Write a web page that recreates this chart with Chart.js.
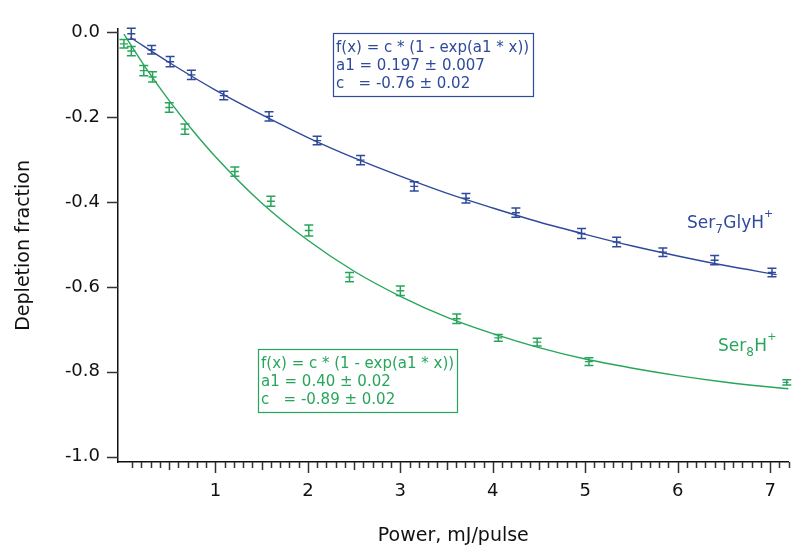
<!DOCTYPE html>
<html>
<head>
<meta charset="utf-8">
<script src="https://cdn.jsdelivr.net/npm/chart.js@4"></script>
<style>
  html, body { margin: 0; padding: 0; background: #fff; }
  #wrap { width: 795px; height: 548px; }
</style>
</head>
<body>
<div id="wrap"><canvas id="chart"></canvas></div>
<script>
const blue = '#2e4a9b';
const green = '#27a65b';
const fontFamily = '"DejaVu Sans", "Noto Sans", sans-serif';

// Ser7GlyH+ measurements
const serGlyPower = [0.09, 0.31, 0.51, 0.74, 1.09, 1.58, 2.10, 2.57, 3.15, 3.71, 4.25, 4.96, 5.34, 5.84, 6.40, 7.02];
const serGlyDepletion = [-0.003, -0.041, -0.069, -0.100, -0.149, -0.198, -0.255, -0.301, -0.363, -0.391, -0.425, -0.474, -0.494, -0.518, -0.537, -0.566];
const serGlyError = [0.013, 0.010, 0.012, 0.011, 0.010, 0.011, 0.010, 0.011, 0.011, 0.011, 0.011, 0.012, 0.011, 0.010, 0.011, 0.010];

// Ser8H+ measurements
const ser8Power = [0.01, 0.09, 0.225, 0.32, 0.50, 0.67, 1.21, 1.60, 2.01, 2.45, 3.00, 3.61, 4.06, 4.48, 5.04, 7.18];
const ser8Depletion = [-0.027, -0.044, -0.090, -0.105, -0.177, -0.228, -0.328, -0.398, -0.467, -0.577, -0.609, -0.675, -0.720, -0.730, -0.776, -0.825];
const ser8Error = [0.010, 0.011, 0.012, 0.012, 0.011, 0.012, 0.011, 0.012, 0.013, 0.011, 0.011, 0.011, 0.008, 0.009, 0.009, 0.006];

// fitted curves
const serGlyFitX = [0.08, 0.5, 1, 1.5, 2, 2.5, 3, 3.5, 4, 4.5, 5, 5.5, 6, 6.5, 7.07];
const serGlyFitY = [-0.012, -0.071, -0.136, -0.194, -0.248, -0.296, -0.339, -0.379, -0.414, -0.447, -0.476, -0.503, -0.527, -0.549, -0.571];
const ser8FitX = [0.01, 0.25, 0.5, 0.75, 1, 1.5, 2, 2.5, 3, 3.5, 4, 4.5, 5, 5.5, 6, 6.5, 7, 7.2];
const ser8FitY = [-0.004, -0.085, -0.161, -0.230, -0.293, -0.402, -0.490, -0.563, -0.622, -0.671, -0.710, -0.743, -0.770, -0.791, -0.809, -0.824, -0.836, -0.840];

const serGlyFitText = ['f(x) = c * (1 - exp(a1 * x))', 'a1 = 0.197 \u00b1 0.007', 'c   = -0.76 \u00b1 0.02'];
const ser8FitText = ['f(x) = c * (1 - exp(a1 * x))', 'a1 = 0.40 \u00b1 0.02', 'c   = -0.89 \u00b1 0.02'];

const toPoints = (xs, ys) => xs.map((v, i) => ({ x: v, y: ys[i] }));

const errorBars = {
  id: 'errorBars',
  afterDatasetsDraw(chart) {
    const { ctx, scales: { x, y } } = chart;
    chart.data.datasets.forEach(ds => {
      if (!ds.errors) return;
      ctx.save();
      ctx.strokeStyle = ds.borderColor;
      ctx.lineWidth = 1.5;
      ctx.beginPath();
      ds.data.forEach((p, i) => {
        const px = x.getPixelForValue(p.x);
        const top = y.getPixelForValue(p.y + ds.errors[i]);
        const bot = y.getPixelForValue(p.y - ds.errors[i]);
        ctx.moveTo(px, top); ctx.lineTo(px, bot);
        ctx.moveTo(px - 4.5, top); ctx.lineTo(px + 4.5, top);
        ctx.moveTo(px - 4.5, bot); ctx.lineTo(px + 4.5, bot);
      });
      ctx.stroke();
      ctx.restore();
    });
  }
};

const axisTicks = {
  id: 'axisTicks',
  afterDraw(chart) {
    const { ctx, chartArea: a, scales: { x, y } } = chart;
    ctx.save();
    ctx.strokeStyle = '#333';
    ctx.lineWidth = 1.5;
    ctx.beginPath();
    for (let i = 1; i <= 72; i++) {
      const px = Math.round(x.getPixelForValue(i / 10)) + 0.5;
      const len = i % 10 === 0 ? 11 : (i % 5 === 0 ? 8 : 6);
      ctx.moveTo(px, a.bottom); ctx.lineTo(px, a.bottom + len);
    }
    y.ticks.forEach(t => {
      const py = Math.round(y.getPixelForValue(t.value)) + 0.5;
      ctx.moveTo(a.left - 11, py); ctx.lineTo(a.left, py);
    });
    ctx.stroke();
    ctx.restore();
  }
};

function fitBox(ctx, lines, color, left, top, w, h) {
  ctx.fillStyle = '#fff';
  ctx.fillRect(left, top, w, h);
  ctx.strokeStyle = color;
  ctx.lineWidth = 1.2;
  ctx.strokeRect(left + 0.5, top + 0.5, w, h);
  ctx.fillStyle = color;
  ctx.font = '15px ' + fontFamily;
  ctx.textBaseline = 'middle';
  lines.forEach((s, i) => ctx.fillText(s, left + 3, top + 15 + i * 18));
}

function speciesLabel(ctx, parts, color, left, base) {
  ctx.fillStyle = color;
  ctx.textBaseline = 'alphabetic';
  let xPos = left;
  parts.forEach(([txt, kind]) => {
    let size = 17, dy = 0;
    if (kind === 'sub') { size = 12; dy = 5; }
    if (kind === 'sup') { size = 11; dy = -11; }
    ctx.font = size + 'px ' + fontFamily;
    ctx.fillText(txt, xPos, base + dy);
    xPos += ctx.measureText(txt).width + (kind === 'sub' ? 0.5 : 0);
  });
}

const annotations = {
  id: 'annotations',
  afterDraw(chart) {
    const ctx = chart.ctx;
    ctx.save();
    fitBox(ctx, serGlyFitText, blue, 333, 33, 200, 63);
    fitBox(ctx, ser8FitText, green, 258, 349, 199, 63);
    speciesLabel(ctx, [['Ser'], ['7', 'sub'], ['GlyH'], ['+', 'sup']], blue, 687, 228);
    speciesLabel(ctx, [['Ser'], ['8', 'sub'], ['H'], ['+', 'sup']], green, 718, 351);
    ctx.restore();
  }
};

new Chart(document.getElementById('chart'), {
  type: 'scatter',
  data: {
    datasets: [
      {
        label: 'Ser7GlyH+ fit',
        data: toPoints(serGlyFitX, serGlyFitY),
        showLine: true,
        borderColor: blue,
        borderWidth: 1.4,
        pointRadius: 0,
        cubicInterpolationMode: 'monotone'
      },
      {
        label: 'Ser8H+ fit',
        data: toPoints(ser8FitX, ser8FitY),
        showLine: true,
        borderColor: green,
        borderWidth: 1.4,
        pointRadius: 0,
        cubicInterpolationMode: 'monotone'
      },
      {
        label: 'Ser7GlyH+',
        data: toPoints(serGlyPower, serGlyDepletion),
        errors: serGlyError,
        borderColor: blue,
        backgroundColor: blue,
        pointStyle: 'line',
        pointRadius: 4,
        pointBorderWidth: 1.4
      },
      {
        label: 'Ser8H+',
        data: toPoints(ser8Power, ser8Depletion),
        errors: ser8Error,
        borderColor: green,
        backgroundColor: green,
        pointStyle: 'line',
        pointRadius: 4,
        pointBorderWidth: 1.4
      }
    ]
  },
  options: {
    responsive: true,
    maintainAspectRatio: false,
    animation: false,
    layout: { padding: { top: 19, left: 0, right: 0, bottom: 0 } },
    plugins: { legend: { display: false }, tooltip: { enabled: false } },
    scales: {
      x: {
        type: 'linear',
        min: -0.054,
        max: 7.2,
        grid: { display: false, drawTicks: false },
        border: { display: true, color: '#111', width: 1.5 },
        ticks: {
          stepSize: 1,
          includeBounds: false,
          autoSkip: false,
          maxRotation: 0,
          padding: 19,
          color: '#111',
          font: { family: fontFamily, size: 18 },
          callback: v => (v >= 1 ? String(v) : '')
        },
        title: {
          display: true,
          text: 'Power, mJ/pulse',
          color: '#111',
          font: { family: fontFamily, size: 19 },
          padding: { top: 0, bottom: 1 }
        },
        afterFit: s => { s.height = 86; }
      },
      y: {
        min: -1.0127,
        max: 0.0085,
        grid: { display: false, drawTicks: false },
        border: { display: true, color: '#111', width: 1.5 },
        ticks: {
          stepSize: 0.2,
          includeBounds: false,
          padding: 18,
          color: '#111',
          font: { family: fontFamily, size: 18 },
          callback: v => (Math.abs(v) < 1e-9 ? 0 : v).toFixed(1)
        },
        title: {
          display: true,
          text: 'Depletion fraction',
          color: '#111',
          font: { family: fontFamily, size: 19 },
          padding: { top: 13, bottom: 0 }
        },
        afterFit: s => { s.width = 118; }
      }
    }
  },
  plugins: [errorBars, axisTicks, annotations]
});
</script>
</body>
</html>
